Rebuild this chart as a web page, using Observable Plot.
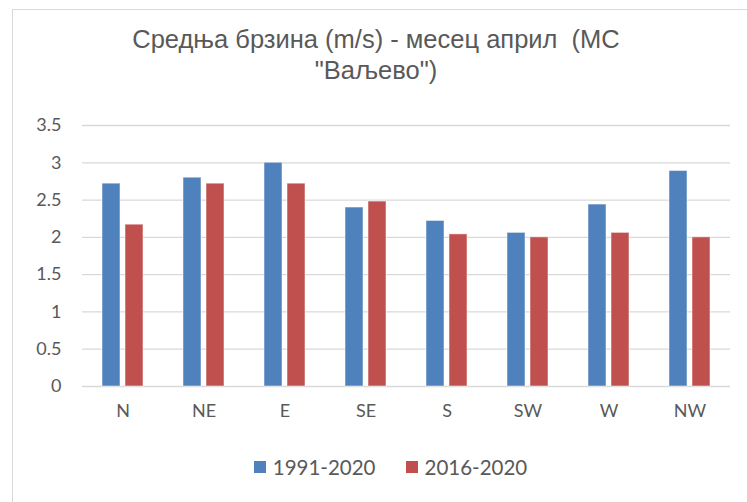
<!DOCTYPE html>
<html>
<head>
<meta charset="utf-8">
<script src="https://cdn.jsdelivr.net/npm/d3@7"></script>
<script src="https://cdn.jsdelivr.net/npm/@observablehq/plot@0.6"></script>
<style>
  html, body { margin: 0; padding: 0; background: #fff; }
  #wrap { position: relative; width: 747px; height: 502px; overflow: hidden; }
  #frame { position: absolute; left: 12px; top: 9px; width: 800px; height: 600px; border: 1.5px solid #d9d9d9; box-sizing: border-box; }
  #title { position: absolute; left: 26px; width: 700px; top: 24px; text-align: center; font-family: "Liberation Sans", Arial, sans-serif; font-size: 25.5px; line-height: 31px; color: #595959; white-space: nowrap; }
  #chart { position: absolute; left: 0; top: 100px; }
  #legend { position: absolute; left: 17px; width: 747px; top: 455px; display: flex; justify-content: center; gap: 30px; font-family: Lato, sans-serif; font-size: 20.5px; color: #595959; }
  .item { display: flex; align-items: center; gap: 7px; }
  .sw { width: 12px; height: 12px; display: inline-block; }
</style>
</head>
<body>
<div id="wrap">
  <div id="frame"></div>
  <div id="title">Средња брзина (m/s) - месец април&nbsp; (МС<br>"Ваљево")</div>
  <div id="chart"></div>
  <div id="legend"></div>
</div>
<script>
const categories = ["N", "NE", "E", "SE", "S", "SW", "W", "NW"];
const seriesNames = ["1991-2020", "2016-2020"];
const values1991 = [2.72, 2.80, 3.00, 2.40, 2.22, 2.06, 2.44, 2.89];
const values2016 = [2.17, 2.72, 2.72, 2.48, 2.04, 2.00, 2.06, 2.00];
const seriesColors = ["#4F81BD", "#C0504D"];
const yTicks = [0, 0.5, 1, 1.5, 2, 2.5, 3, 3.5];

const data = [];
categories.forEach((c, i) => {
  data.push({cat: c, series: seriesNames[0], value: values1991[i]});
  data.push({cat: c, series: seriesNames[1], value: values2016[i]});
});

const chart = Plot.plot({
  width: 747,
  height: 345,
  marginLeft: 82,
  marginRight: 17,
  marginTop: 25,
  marginBottom: 59,
  style: { fontFamily: "Lato, sans-serif", fontSize: "18px", color: "#595959", background: "transparent" },
  fx: { domain: categories, padding: 0, label: null, tickSize: 0, tickPadding: 18 },
  x: { domain: seriesNames, paddingInner: 0.22, paddingOuter: 0.87, axis: null },
  y: { domain: [0, 3.5], ticks: yTicks, tickFormat: d => String(d), tickSize: 0, tickPadding: 21, label: null },
  color: { domain: seriesNames, range: seriesColors },
  marks: [
    Plot.gridY(yTicks, { stroke: "#d9d9d9", strokeOpacity: 1, strokeWidth: 1.3 }),
    Plot.barY(data, { fx: "cat", x: "series", y: "value", fill: "series", stroke: "#ffffff", strokeOpacity: 0.5, strokeWidth: 1 })
  ]
});
document.getElementById("chart").appendChild(chart);

const legend = document.getElementById("legend");
seriesNames.forEach((s, i) => {
  const item = document.createElement("div");
  item.className = "item";
  const sw = document.createElement("span");
  sw.className = "sw";
  sw.style.background = seriesColors[i];
  const t = document.createElement("span");
  t.textContent = s;
  item.appendChild(sw);
  item.appendChild(t);
  legend.appendChild(item);
});
</script>
</body>
</html>
